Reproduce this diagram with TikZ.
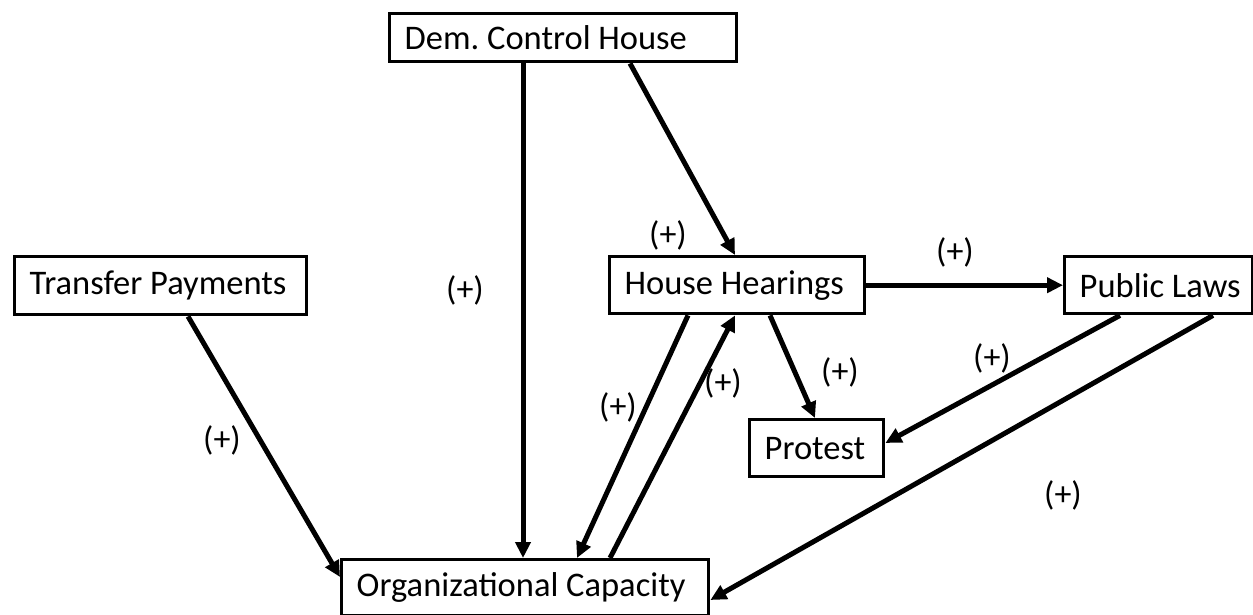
\documentclass[tikz,border=0pt]{standalone}
\usepackage{fontspec}
\setmainfont{Carlito}
\usetikzlibrary{arrows.meta}
\newcommand{\lbx}[2]{\makebox[#1][l]{#2}}
\begin{document}
\frenchspacing
\begin{tikzpicture}[x=1pt,y=-1pt,
  box/.style={draw, line width=3.4pt, anchor=north west, inner xsep=14pt, inner ysep=0pt, font=\fontsize{34.5}{38}\selectfont},
  conn/.style={line width=5pt, -{Triangle[length=16pt,width=15pt]}},
  sign/.style={font=\fontsize{34}{36}\selectfont, inner sep=0pt}]
\useasboundingbox (0,0) rectangle (1253,615);
\node[box, minimum width=347pt, minimum height=48pt] (dem) at (388,12) {\lbx{317pt}{Dem. Control House}};
\node[box, minimum width=255pt, minimum height=57pt] (hh) at (608,255) {\lbx{225pt}{House Hearings}};
\node[box, minimum width=188pt, minimum height=57pt] (pl) at (1063,255) {\lbx{158pt}{Public Laws}};
\node[box, minimum width=292pt, minimum height=58pt] (tp) at (13,255) {\lbx{262pt}{Transfer Payments}};
\node[box, minimum width=367pt, minimum height=56pt] (org) at (340,558) {\lbx{337pt}{Organizational Capacity}};
\node[box, minimum width=134pt, minimum height=57pt] (pr) at (748,418) {\lbx{104pt}{Protest}};

\draw[conn] ([xshift=135pt]dem.south west) -- ([xshift=183pt]org.north west);
\draw[conn] ([xshift=242pt]dem.south west) -- ([xshift=127pt]hh.north west);
\draw[conn] ([xshift=175pt]tp.south west) -- ([yshift=-19pt]org.north west);
\draw[conn] (hh.east) -- (pl.west);
\draw[conn] ([xshift=80pt]hh.south west) -- ([xshift=237pt]org.north west);
\draw[conn] ([xshift=270pt]org.north west) -- ([xshift=127pt]hh.south west);
\draw[conn] ([xshift=162pt]hh.south west) -- ([xshift=67pt]pr.north west);
\draw[conn] ([xshift=57pt]pl.south west) -- ([yshift=-25pt]pr.north east);
\draw[conn] ([xshift=150pt]pl.south west) -- ([yshift=-42pt]org.north east);

\node[sign] (l1) at (668,235) {(+)};
\node[sign] (l2) at (465,290) {(+)};
\node[sign] (l3) at (955,252) {(+)};
\node[sign] (l4) at (222,440) {(+)};
\node[sign] (l5) at (618,407) {(+)};
\node[sign] (l6) at (723,383) {(+)};
\node[sign] (l7) at (840,372) {(+)};
\node[sign] (l8) at (992,358) {(+)};
\node[sign] (l9) at (1063,495) {(+)};
\end{tikzpicture}
\end{document}
